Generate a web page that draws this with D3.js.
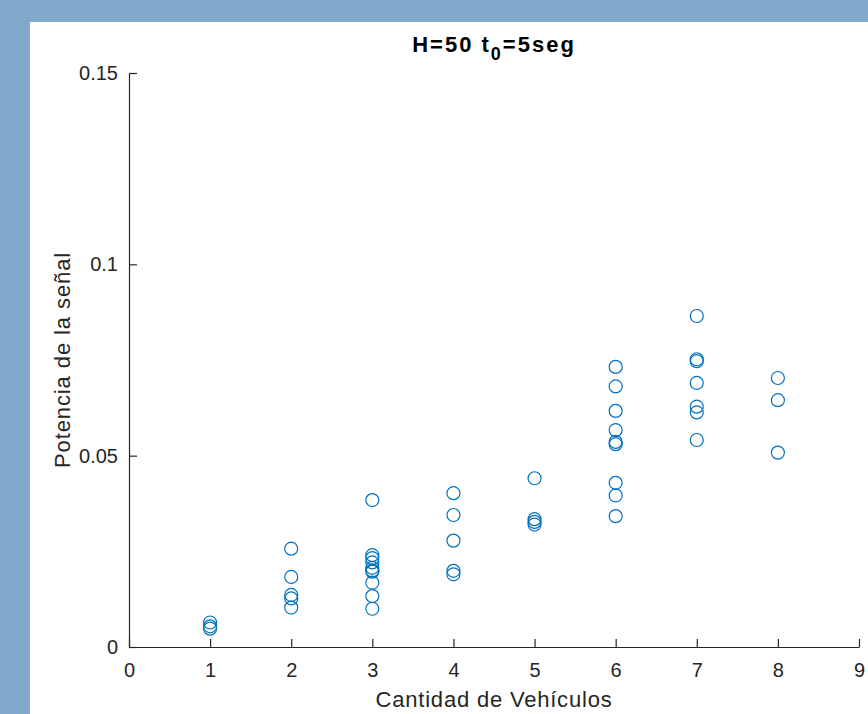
<!DOCTYPE html>
<html>
<head>
  <meta charset="utf-8">
  <title>H=50 t0=5seg</title>
  <script src="https://d3js.org/d3.v7.min.js"></script>
  <style>
    body { margin: 0; font-family: "Liberation Sans", Arial, sans-serif; }
    .axis path, .axis line { stroke: #262626; stroke-width: 1.2; }
    .axis text { fill: #262626; font-size: 20px; font-family: "Liberation Sans", Arial, sans-serif; }
    .pt { fill: none; stroke: #0072BD; stroke-width: 1.2; }
  </style>
</head>
<body>
  <svg width="868" height="714"></svg>
  <script>
    const cantidad = [
      1, 1, 1,
      2, 2, 2, 2, 2,
      3, 3, 3, 3, 3, 3, 3, 3, 3, 3,
      4, 4, 4, 4, 4,
      5, 5, 5, 5,
      6, 6, 6, 6, 6, 6, 6, 6, 6,
      7, 7, 7, 7, 7, 7, 7,
      8, 8, 8
    ];
    const potencia = [
      0.0064, 0.0054, 0.0048,
      0.0257, 0.0183, 0.0136, 0.0127, 0.0103,
      0.0384, 0.0240, 0.0232, 0.0221, 0.0207, 0.0200, 0.0197, 0.0168, 0.0133, 0.0100,
      0.0402, 0.0345, 0.0278, 0.0199, 0.0190,
      0.0441, 0.0334, 0.0327, 0.0320,
      0.0732, 0.0681, 0.0617, 0.0567, 0.0536, 0.0530, 0.0429, 0.0396, 0.0342,
      0.0865, 0.0752, 0.0747, 0.0690, 0.0628, 0.0613, 0.0541,
      0.0703, 0.0645, 0.0508
    ];
    const xTicks = [0, 1, 2, 3, 4, 5, 6, 7, 8, 9];
    const yTicks = [0, 0.05, 0.1, 0.15];

    const svg = d3.select("svg"),
          margin = {top: 73, right: 9, bottom: 67, left: 129},
          width = +svg.attr("width") - margin.left - margin.right,
          height = +svg.attr("height") - margin.top - margin.bottom;

    // figure window colours
    svg.append("rect").attr("width", 868).attr("height", 714).attr("fill", "#80a9cb");
    svg.append("rect").attr("x", 30).attr("y", 22).attr("width", 838).attr("height", 692).attr("fill", "#fff");

    const g = svg.append("g").attr("transform", `translate(${margin.left},${margin.top})`);

    const x = d3.scaleLinear().domain([0, 9]).range([0, width]);
    const y = d3.scaleLinear().domain([0, 0.15]).range([height, 0]);

    g.append("g")
      .attr("class", "axis x")
      .attr("transform", `translate(0,${height})`)
      .call(d3.axisBottom(x).tickValues(xTicks).tickFormat(d3.format("d")).tickSizeInner(-8).tickSizeOuter(0).tickPadding(16));

    g.append("g")
      .attr("class", "axis y")
      .call(d3.axisLeft(y).tickValues(yTicks).tickFormat(d => d === 0 ? "0" : String(d)).tickSizeInner(-8).tickSizeOuter(0).tickPadding(11));

    g.selectAll("circle")
      .data(cantidad.map((c, i) => ({c, p: potencia[i]})))
      .join("circle")
      .attr("class", "pt")
      .attr("cx", d => x(d.c))
      .attr("cy", d => y(d.p))
      .attr("r", 6.5);

    const title = svg.append("text")
      .attr("x", margin.left + width / 2)
      .attr("y", 52)
      .attr("text-anchor", "middle")
      .attr("font-size", 22)
      .attr("font-weight", "bold")
      .attr("letter-spacing", 2)
      .attr("fill", "#000");
    title.append("tspan").text("H=50 t");
    title.append("tspan").attr("dy", 8).attr("font-size", 18).text("0");
    title.append("tspan").attr("dy", -8).text("=5seg");

    svg.append("text")
      .attr("x", margin.left + width / 2)
      .attr("y", 707)
      .attr("text-anchor", "middle")
      .attr("font-size", 22)
      .attr("letter-spacing", 0.8)
      .attr("fill", "#262626")
      .text("Cantidad de Vehículos");

    svg.append("text")
      .attr("transform", `translate(70,${margin.top + height / 2}) rotate(-90)`)
      .attr("text-anchor", "middle")
      .attr("font-size", 22)
      .attr("letter-spacing", 0.9)
      .attr("fill", "#262626")
      .text("Potencia de la señal");
  </script>
</body>
</html>
